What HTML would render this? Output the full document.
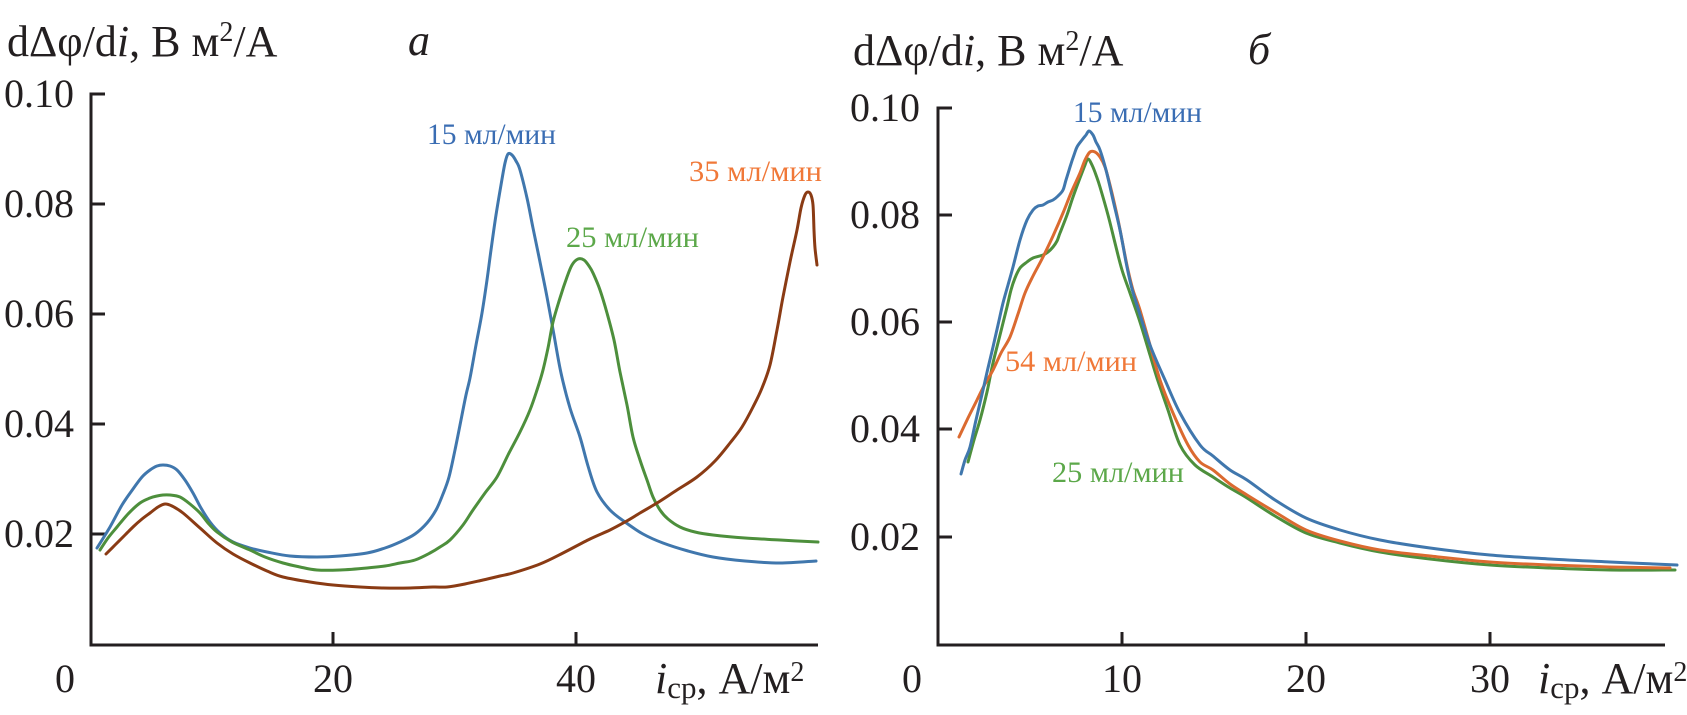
<!DOCTYPE html>
<html>
<head>
<meta charset="utf-8">
<style>
html,body{margin:0;padding:0;background:#fff;}
svg{display:block;}
svg, text{font-family:"Liberation Serif","Noto Serif CJK SC",serif;}
text{fill:#231f20;}
.ax{stroke:#231f20;stroke-width:3;fill:none;}
.c{fill:none;stroke-width:3;stroke-linejoin:round;stroke-linecap:round;}
</style>
</head>
<body>
<svg id="chart" width="1687" height="715" viewBox="0 0 1687 715" xmlns="http://www.w3.org/2000/svg" font-family="'Liberation Serif', serif">
<rect width="1687" height="715" fill="#fff"/>

<!-- ===== LEFT PANEL ===== -->
<text x="7" y="56" font-size="44" font-family="'Liberation Serif', serif">dΔφ/d<tspan font-style="italic">i</tspan>, В м<tspan font-size="28" dy="-15">2</tspan><tspan dy="15">/А</tspan></text>
<text x="408" y="55" font-size="44" font-style="italic" font-family="'Liberation Serif', serif">а</text>

<path class="ax" d="M105,94 H91 V645 H818"/>
<path class="ax" d="M91,204 H105 M91,314 H105 M91,424 H105 M91,534 H105 M333,645 V632 M576,645 V632"/>

<g font-size="40" text-anchor="end" font-family="'Liberation Serif', serif">
<text x="74" y="107">0.10</text>
<text x="74" y="217">0.08</text>
<text x="74" y="327">0.06</text>
<text x="74" y="437">0.04</text>
<text x="74" y="547">0.02</text>
</g>
<g font-size="40" text-anchor="middle" font-family="'Liberation Serif', serif">
<text x="65" y="692">0</text>
<text x="333" y="692">20</text>
<text x="576" y="692">40</text>
</g>
<text x="655" y="693" font-size="44" font-family="'Liberation Serif', serif"><tspan font-style="italic">i</tspan><tspan font-size="31" dy="5">cp</tspan><tspan dy="-5">, А/м</tspan><tspan font-size="28" dy="-12">2</tspan></text>

<polyline class="c" stroke="#4077ad" points="97,548 110,527 122,505 133,489 142,477 150,470 157,466 163,465 170,466 177,470 185,480 193,493 201,508 210,522 220,533 233,542 250,548 267,552 290,556 317,557 340,556 367,553 385,548 400,542 415,534 427,523 436,510 443,494 449,477 455,450 461,420 466,395 470,378 476,345 482,313 487,280 491,250 496,215 501,185 505,163 508,154 512,155 516,161 520,170 527,198 533,228 540,262 547,297 554,335 561,373 570,408 580,437 588,466 597,492 610,510 625,522 643,534 663,543 688,551 713,557 745,561 780,563 816,561"/>
<polyline class="c" stroke="#4d8f3c" points="100,550 108,538 117,527 128,514 140,503 150,498 157,496 163,495 170,495 180,497 190,504 200,513 208,523 217,532 232,542 250,550 265,557 283,563 300,567 317,570 340,570 367,568 385,566 400,563 415,560 430,553 440,547 450,540 463,525 473,510 485,493 497,477 508,455 520,432 530,410 537,390 543,370 548,348 553,322 560,298 567,277 572,265 578,259 584,260 589,266 593,273 600,290 607,313 614,340 620,372 627,405 633,437 640,460 647,480 653,497 660,510 668,519 680,527 695,532 713,535 745,538 780,540 818,542"/>
<polyline class="c" stroke="#8a3b14" points="106,554 115,545 125,535 133,527 142,519 150,513 158,507 165,504 172,506 183,513 200,528 217,543 233,554 250,563 267,571 283,577 310,582 333,585 360,587 383,588 410,588 433,587 447,587 465,584 483,580 500,576 513,573 540,564 563,553 590,539 610,530 625,522 640,513 657,503 677,490 697,477 715,461 730,443 742,427 753,407 762,388 770,365 777,330 783,297 790,262 797,230 801,208 805,195 808,192 811,195 813,205 814,230 815,248 817,265"/>

<text x="427" y="144" font-size="30" font-family="'Liberation Serif', serif" style="fill:#3a6db3" textLength="129" lengthAdjust="spacingAndGlyphs">15 мл/мин</text>
<text x="566" y="247" font-size="30" font-family="'Liberation Serif', serif" style="fill:#5ca84a" textLength="133" lengthAdjust="spacingAndGlyphs">25 мл/мин</text>
<text x="689" y="181" font-size="30" font-family="'Liberation Serif', serif" style="fill:#f07838" textLength="133" lengthAdjust="spacingAndGlyphs">35 мл/мин</text>

<!-- ===== RIGHT PANEL ===== -->
<text x="853" y="65" font-size="44" font-family="'Liberation Serif', serif">dΔφ/d<tspan font-style="italic">i</tspan>, В м<tspan font-size="28" dy="-15">2</tspan><tspan dy="15">/А</tspan></text>
<text x="1248" y="64" font-size="44" font-style="italic" font-family="'Liberation Serif', serif">б</text>

<path class="ax" d="M952,108 H938 V645 H1665"/>
<path class="ax" d="M938,215 H952 M938,322 H952 M938,429 H952 M938,537 H952 M1122,645 V632 M1306,645 V632 M1490,645 V632"/>

<g font-size="40" text-anchor="end" font-family="'Liberation Serif', serif">
<text x="920" y="121">0.10</text>
<text x="920" y="228">0.08</text>
<text x="920" y="335">0.06</text>
<text x="920" y="442">0.04</text>
<text x="920" y="550">0.02</text>
</g>
<g font-size="40" text-anchor="middle" font-family="'Liberation Serif', serif">
<text x="912" y="692">0</text>
<text x="1122" y="692">10</text>
<text x="1306" y="692">20</text>
<text x="1490" y="692">30</text>
</g>
<text x="1538" y="693" font-size="44" font-family="'Liberation Serif', serif"><tspan font-style="italic">i</tspan><tspan font-size="31" dy="5">cp</tspan><tspan dy="-5">, А/м</tspan><tspan font-size="28" dy="-12">2</tspan></text>

<polyline class="c" stroke="#4d8f3c" points="968,462 974,440 980,420 987,392 993,363 1000,335 1007,307 1011,290 1015,278 1020,268 1027,262 1033,258 1043,255 1048,252 1053,247 1057,241 1060,233 1067,215 1073,197 1080,178 1085,165 1088,159 1092,165 1096,175 1100,187 1108,215 1115,243 1122,270 1130,293 1140,322 1150,355 1157,378 1168,410 1180,445 1195,465 1213,477 1230,488 1247,498 1275,516 1306,533 1340,543 1380,552 1430,559 1490,565 1550,568 1610,570 1675,570"/>
<polyline class="c" stroke="#db6a30" points="959,437 968,418 977,400 985,384 993,370 1001,353 1010,337 1018,314 1025,293 1033,276 1043,257 1053,236 1063,213 1071,193 1080,173 1085,160 1090,152 1095,152 1100,157 1105,167 1110,185 1117,215 1123,245 1128,270 1133,290 1140,310 1150,345 1160,380 1173,413 1188,445 1200,462 1213,470 1230,484 1247,495 1275,512 1306,530 1340,541 1380,550 1430,556 1490,562 1550,565 1610,567 1670,568"/>
<polyline class="c" stroke="#4077ad" points="961,474 965,460 970,447 976,420 983,390 988,368 993,347 998,325 1003,303 1008,285 1013,267 1020,240 1027,220 1033,210 1038,206 1043,205 1048,202 1053,200 1058,196 1063,190 1066,180 1070,167 1074,155 1077,147 1082,140 1086,135 1089,131 1093,135 1096,142 1100,150 1106,170 1113,200 1120,230 1126,262 1131,285 1137,305 1150,345 1165,380 1180,413 1200,445 1213,456 1230,470 1247,480 1275,500 1306,518 1340,530 1380,540 1430,548 1490,555 1550,559 1610,562 1677,565"/>

<text x="1073" y="122" font-size="30" font-family="'Liberation Serif', serif" style="fill:#3a6db3" textLength="129" lengthAdjust="spacingAndGlyphs">15 мл/мин</text>
<text x="1005" y="371" font-size="30" font-family="'Liberation Serif', serif" style="fill:#f07838" textLength="132" lengthAdjust="spacingAndGlyphs">54 мл/мин</text>
<text x="1052" y="482" font-size="30" font-family="'Liberation Serif', serif" style="fill:#5ca84a" textLength="132" lengthAdjust="spacingAndGlyphs">25 мл/мин</text>
</svg>
<script>
(function(){
  try{
    var svg=document.getElementById('chart');
    var pls=svg.querySelectorAll('polyline.c');
    for(var k=0;k<pls.length;k++){
      var pl=pls[k];
      var raw=pl.getAttribute('points').trim().split(/\s+/);
      var p=[];
      for(var i=0;i<raw.length;i++){var a=raw[i].split(',');p.push([+a[0],+a[1]]);}
      var d='M'+p[0][0]+','+p[0][1];
      for(var i=0;i<p.length-1;i++){
        var p0=p[i>0?i-1:i],p1=p[i],p2=p[i+1],p3=p[i+2<p.length?i+2:i+1];
        var t=1/6;
        var c1x=p1[0]+(p2[0]-p0[0])*t,c1y=p1[1]+(p2[1]-p0[1])*t;
        var c2x=p2[0]-(p3[0]-p1[0])*t,c2y=p2[1]-(p3[1]-p1[1])*t;
        d+=' C'+c1x.toFixed(1)+','+c1y.toFixed(1)+' '+c2x.toFixed(1)+','+c2y.toFixed(1)+' '+p2[0]+','+p2[1];
      }
      var path=document.createElementNS('http://www.w3.org/2000/svg','path');
      path.setAttribute('d',d);
      path.setAttribute('class','c');
      path.setAttribute('stroke',pl.getAttribute('stroke'));
      pl.parentNode.insertBefore(path,pl);
      pl.parentNode.removeChild(pl);
    }
  }catch(e){}
})();
</script>
</body>
</html>
